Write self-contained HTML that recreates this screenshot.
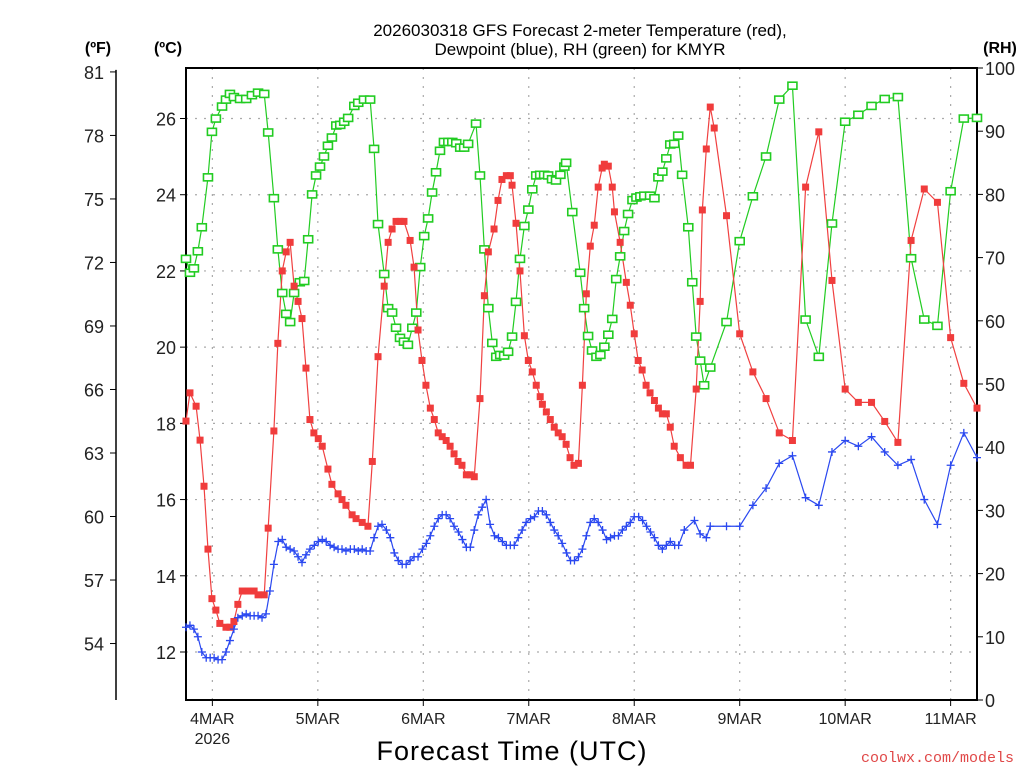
<!DOCTYPE html>
<html><head><meta charset="utf-8"><style>
body{margin:0;background:#fff;}
svg text{font-family:"Liberation Sans",sans-serif;}
</style></head><body>
<svg id="chart" width="1024" height="768" xmlns="http://www.w3.org/2000/svg">
<g id="grid"></g><g id="axes"></g><g id="series"></g>
<text x="580" y="36" font-size="17" text-anchor="middle">2026030318 GFS Forecast 2-meter Temperature (red),</text>
<text x="580" y="55" font-size="17" text-anchor="middle">Dewpoint (blue), RH (green) for KMYR</text>
<text x="98" y="53" font-size="16" font-weight="bold" text-anchor="middle">(ºF)</text>
<text x="168" y="53" font-size="16" font-weight="bold" text-anchor="middle">(ºC)</text>
<text x="1000" y="53" font-size="16" font-weight="bold" text-anchor="middle">(RH)</text>
<text x="512" y="760" font-size="27" text-anchor="middle" letter-spacing="1">Forecast Time (UTC)</text>
<text x="1014" y="762" font-size="15" text-anchor="end" fill="#e04848" font-family="Liberation Mono" style="font-family:'Liberation Mono',monospace">coolwx.com/models</text>
</svg>
<script>
const dayLabels=["4MAR","5MAR","6MAR","7MAR","8MAR","9MAR","10MAR","11MAR"];
const dayHours=[6,30,54,78,102,126,150,174];
const cTicks=[12,14,16,18,20,22,24,26];
const fTicks=[54,57,60,63,66,69,72,75,78,81];
const rhTicks=[0,10,20,30,40,50,60,70,80,90,100];
const tempTimes=[0,0.9,2.3,3.2,4.1,5.0,5.9,6.8,7.7,9.1,10.0,10.9,11.8,12.8,14.1,15.5,16.4,17.8,18.7,20.0,20.9,21.9,22.8,23.7,24.6,25.5,26.4,27.3,28.2,29.1,30.1,31.0,32.3,33.2,34.6,35.5,36.4,37.8,38.7,40.1,41.4,42.4,43.7,45.1,46.0,46.9,47.8,48.7,49.6,51.0,51.9,52.8,53.7,54.6,55.6,56.5,57.4,58.3,59.2,60.1,61.0,61.9,62.8,63.8,64.7,65.6,66.9,67.9,68.8,70.1,71.0,71.9,72.9,73.8,74.2,75.1,76.0,77.0,77.9,78.8,79.7,80.6,81.1,82.0,82.9,83.8,84.7,85.6,86.5,87.4,88.3,89.3,90.2,91.1,92.0,92.9,93.8,94.7,95.2,96.1,97.0,97.5,98.8,100.2,101.1,102.0,102.9,103.8,104.7,105.6,106.6,107.5,108.4,109.3,110.2,111.1,112.5,113.8,114.8,116.1,117.0,117.5,118.4,119.3,120.2,123,126,129,132,135,138,141,144,147,150,153,156,159,162,165,168,171,174,177,180];
const tempValues=[18.06,18.8,18.45,17.56,16.35,14.7,13.4,13.1,12.75,12.65,12.65,12.8,13.25,13.6,13.6,13.6,13.5,13.5,15.25,17.8,20.1,22.0,22.5,22.75,21.6,21.2,20.75,19.45,18.1,17.75,17.6,17.4,16.8,16.4,16.15,16.0,15.85,15.6,15.5,15.4,15.3,17.0,19.75,21.6,22.75,23.1,23.3,23.3,23.3,22.8,22.1,20.45,19.65,19.0,18.4,18.1,17.75,17.65,17.55,17.4,17.2,17.0,16.9,16.65,16.65,16.6,18.65,21.35,22.5,23.1,23.85,24.4,24.5,24.5,24.25,23.25,22.0,20.3,19.65,19.35,19.0,18.7,18.5,18.3,18.1,17.9,17.75,17.65,17.45,17.1,16.9,16.95,19.0,21.4,22.65,23.2,24.2,24.7,24.8,24.75,24.2,23.55,22.75,21.7,21.1,20.35,19.65,19.4,19.0,18.8,18.6,18.4,18.25,18.25,17.9,17.4,17.1,16.9,16.9,18.9,21.2,23.6,25.2,26.3,25.75,23.45,20.35,19.35,18.65,17.75,17.55,24.2,25.65,21.75,18.9,18.55,18.55,18.05,17.5,22.8,24.15,23.8,20.25,19.05,18.4];
const rhTimes=[0,0.9,1.8,2.7,3.6,5.0,5.9,6.8,8.2,9.1,10.0,10.9,12.3,13.7,15.0,16.4,17.8,18.7,20.0,20.9,21.9,22.8,23.7,24.6,25.9,26.9,27.8,28.7,29.6,30.5,31.4,32.3,33.2,34.2,35.1,36.0,36.9,38.3,39.2,40.5,41.9,42.8,43.7,45.1,46.0,46.9,47.8,48.7,49.6,50.5,51.5,52.4,53.3,54.2,55.1,56.0,56.9,57.8,58.7,59.7,60.6,61.5,62.4,63.3,64.2,66.0,66.9,67.9,68.8,69.7,70.6,71.5,72.4,73.3,74.2,75.1,76.0,77.0,77.9,78.8,79.7,80.6,81.5,82.4,83.3,84.2,85.2,86.1,86.5,87.9,89.7,90.6,91.5,92.4,93.4,94.3,95.2,96.1,97.0,97.9,98.8,99.7,100.6,101.6,102.5,103.4,104.3,105.6,106.6,107.5,108.4,109.3,110.2,111.1,112.0,112.9,114.3,115.2,116.1,117.0,117.9,119.3,123,126,129,132,135,138,141,144,147,150,153,156,159,162,165,168,171,174,177,180];
const rhValues=[69.8,67.6,68.3,71,74.8,82.7,89.9,92,93.9,95,95.9,95.4,95.1,95.1,95.7,96.1,95.9,89.8,79.4,71.3,64.4,61.1,59.8,64.4,66.1,66.3,72.9,80,83,84.4,86,87.7,89,90.9,91,91.5,92.1,94,94.5,95,95,87.2,75.3,67.4,62,61.3,58.9,57.3,56.7,56.2,58.9,61.3,68.5,73.4,76.2,80.3,83.5,86.9,88.3,88.3,88.3,88.1,87.4,87.4,88,91.2,83,71.3,62,56.5,54.3,54.6,54.5,55.1,57.5,63,69.8,75,77.6,80.8,83,83.1,83.1,83,82.4,82.2,83.1,84.4,85,77.2,67.6,62,57.6,55.3,54.3,54.6,55.9,57.8,60.3,66.6,70.2,74.2,76.9,79.1,79.5,79.7,79.8,79.8,79.4,82.7,83.6,85.7,87.9,88,89.3,83.1,74.8,66.1,57.5,53.7,49.8,52.6,59.8,72.6,79.7,86,95,97.2,60.2,54.3,75.4,91.5,92.6,94,95.1,95.4,69.9,60.2,59.2,80.5,92,92.1];
const dewTimes=[0,0.9,1.8,2.7,3.6,4.6,5.5,6.4,7.3,8.2,9.1,10.0,10.9,11.8,12.8,13.7,14.6,15.5,16.4,17.3,18.2,19.1,20.0,21.0,21.9,22.8,23.7,24.6,25.5,26.4,27.3,28.2,29.2,30.1,31.0,31.9,32.8,33.7,34.6,35.5,36.4,37.4,38.3,39.2,40.1,41.0,41.9,42.8,43.7,44.6,45.6,46.5,47.4,48.3,49.2,50.1,51.0,51.9,52.8,53.8,54.7,55.6,56.5,57.4,58.3,59.2,60.1,61.0,62.0,62.9,63.8,64.7,65.6,66.5,67.4,68.3,69.2,70.2,71.1,72.0,72.9,73.8,74.7,75.6,76.5,77.4,78.4,79.3,80.2,81.1,82.0,82.9,83.8,84.7,85.6,86.6,87.5,88.4,89.3,90.2,91.1,92.0,92.9,93.8,94.8,95.7,96.6,97.5,98.4,99.3,100.2,101.1,102.0,103.0,103.9,104.8,105.7,106.6,107.5,108.4,109.3,110.2,111.2,112.1,113.4,115.7,117.0,118.4,119.3,123,126,129,132,135,138,141,144,147,150,153,156,159,162,165,168,171,174,177,180];
const dewValues=[12.65,12.7,12.6,12.4,12.0,11.85,11.85,11.85,11.8,11.8,12.0,12.3,12.6,12.9,12.95,13.0,12.95,12.95,12.95,12.9,13.0,13.6,14.3,14.9,14.95,14.75,14.7,14.65,14.5,14.35,14.55,14.7,14.8,14.9,14.95,14.9,14.8,14.75,14.7,14.7,14.65,14.7,14.7,14.65,14.7,14.65,14.65,15.0,15.3,15.35,15.2,15.0,14.6,14.4,14.3,14.3,14.4,14.5,14.5,14.7,14.85,15.05,15.3,15.5,15.6,15.6,15.5,15.3,15.15,14.95,14.75,14.75,15.2,15.6,15.8,16.0,15.35,15.05,15.0,14.9,14.8,14.8,14.8,15.0,15.2,15.4,15.5,15.55,15.7,15.7,15.6,15.4,15.2,15.05,14.85,14.6,14.4,14.4,14.5,14.7,15.05,15.4,15.5,15.4,15.2,14.95,15.0,15.05,15.05,15.2,15.3,15.4,15.55,15.55,15.45,15.3,15.15,15.0,14.8,14.7,14.8,14.9,14.8,14.8,15.2,15.45,15.1,15.0,15.3,15.3,15.3,15.85,16.3,16.95,17.15,16.05,15.85,17.25,17.55,17.4,17.65,17.25,16.9,17.05,16.0,15.35,16.9,17.75,17.1];

const NS="http://www.w3.org/2000/svg";
const L=186,R=977,T=68,B=700;
const xS=h=>L+(h/180)*(R-L);
const yC=c=>652-(c-12)*(652-118.5)/14;
const yRH=r=>B-r*(B-T)/100;
const yF=f=>yC((f-32)*5/9);
function mk(tag,attrs,parent){const e=document.createElementNS(NS,tag);for(const k in attrs)e.setAttribute(k,attrs[k]);parent.appendChild(e);return e;}
const grid=document.getElementById('grid'),axes=document.getElementById('axes'),ser=document.getElementById('series');
cTicks.forEach(c=>{const y=yC(c);
 const g=mk('line',{x1:L,x2:R,y1:y,y2:y,stroke:'#aaa','stroke-width':1.2,'stroke-dasharray':'2,7'},grid);
 
 
 mk('line',{x1:L-6,x2:L,y1:y,y2:y,stroke:'#000','stroke-width':1},axes);
 const t=mk('text',{x:L-10,y:y+7,'font-size':18,'text-anchor':'end',fill:'#222'},axes);t.textContent=c;
 
 
});
dayHours.forEach((h,i)=>{const x=xS(h);
 const g=mk('line',{x1:x,x2:x,y1:T,y2:B,stroke:'#aaa','stroke-width':1.2,'stroke-dasharray':'2,7'},grid);
 
 
 mk('line',{x1:x,x2:x,y1:B,y2:B+6,stroke:'#000'},axes);
 const t=mk('text',{x:x,y:724,'font-size':16,'text-anchor':'middle',fill:'#222'},axes);t.textContent=dayLabels[i];
 
 
});
const yr=mk('text',{x:xS(dayHours[0]),y:744,'font-size':16,'text-anchor':'middle',fill:'#222'},axes);yr.textContent='2026';


mk('line',{x1:116,x2:116,y1:yF(81)-2,y2:B,stroke:'#000','stroke-width':1.5},axes);
fTicks.forEach(f=>{const y=yF(f);
 mk('line',{x1:110,x2:116,y1:y,y2:y,stroke:'#000'},axes);
 const t=mk('text',{x:104,y:y+7,'font-size':18,'text-anchor':'end',fill:'#222'},axes);t.textContent=f;
 
 
});
rhTicks.forEach(r=>{const y=yRH(r);
 mk('line',{x1:R,x2:R+6,y1:y,y2:y,stroke:'#000'},axes);
 const t=mk('text',{x:985,y:y+7,'font-size':18,'text-anchor':'start',fill:'#222'},axes);t.textContent=r;
 
 
});
const fr=mk('rect',{x:L,y:T,width:R-L,height:B-T,fill:'none',stroke:'#000','stroke-width':2},axes);



function line(times,vals,yf,col,name){
 const p=mk('polyline',{points:times.map((t,i)=>xS(t)+','+yf(vals[i])).join(' '),fill:'none',stroke:col,'stroke-width':1.2},ser);
 
 
}
line(rhTimes,rhValues,yRH,'#22cc22','rh');
line(tempTimes,tempValues,yC,'#f04040','temperature');
line(dewTimes,dewValues,yC,'#2a48f0','dewpoint');
rhTimes.forEach((t,i)=>{const r=mk('rect',{x:xS(t)-4.5,y:yRH(rhValues[i])-3.5,width:9,height:7,fill:'#fff',stroke:'#22cc22','stroke-width':1.6},ser);
 
 
});
tempTimes.forEach((t,i)=>{const r=mk('rect',{x:xS(t)-3.5,y:yC(tempValues[i])-3.5,width:7,height:7,fill:'#f03c3c'},ser);
 
 
});
dewTimes.forEach((t,i)=>{const x=xS(t),y=yC(dewValues[i]);
 const p=mk('path',{d:`M${x-4},${y}H${x+4}M${x},${y-4}V${y+4}`,stroke:'#2a48f0','stroke-width':1.3,fill:'none'},ser);
 
 
});
</script>
</body></html>
